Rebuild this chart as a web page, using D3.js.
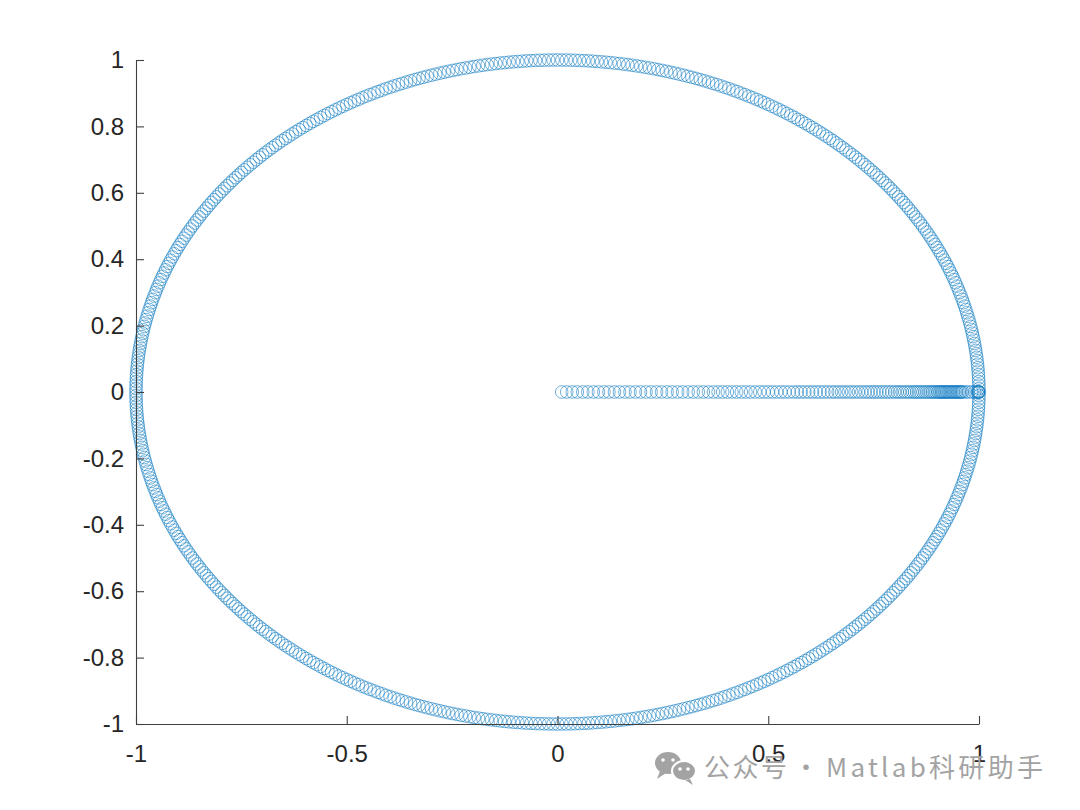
<!DOCTYPE html>
<html>
<head>
<meta charset="utf-8">
<script src="https://cdn.jsdelivr.net/npm/d3@7"></script>
<style>
  body { margin: 0; background: #fff; }
  svg { display: block; }
</style>
</head>
<body>
<script>
// tick values, as printed on the axes
var xTicks = [-1, -0.5, 0, 0.5, 1];
var yTicks = [-1, -0.8, -0.6, -0.4, -0.2, 0, 0.2, 0.4, 0.6, 0.8, 1];

// trajectory along the x axis (y = 0), from near the origin to the limit cycle
var rayX = [
  0.010, 0.022, 0.035, 0.047, 0.060, 0.072, 0.085, 0.097, 0.110, 0.122,
  0.135, 0.147, 0.160, 0.172, 0.185, 0.197, 0.210, 0.222, 0.235, 0.247,
  0.260, 0.272, 0.285, 0.297, 0.310, 0.322, 0.334, 0.346, 0.358, 0.370,
  0.381, 0.392, 0.403, 0.414, 0.425, 0.436, 0.447, 0.458, 0.469, 0.480,
  0.490, 0.500, 0.510, 0.520, 0.530, 0.540, 0.550, 0.560, 0.569, 0.578,
  0.587, 0.596, 0.605, 0.614, 0.623, 0.632, 0.641, 0.650, 0.658, 0.666,
  0.674, 0.682, 0.690, 0.698, 0.706, 0.714, 0.722, 0.730, 0.737, 0.744,
  0.751, 0.758, 0.765, 0.772, 0.779, 0.786, 0.793, 0.800, 0.806, 0.812,
  0.818, 0.824, 0.830, 0.836, 0.842, 0.847, 0.852, 0.857, 0.862, 0.867,
  0.872, 0.877, 0.882, 0.886, 0.890, 0.894, 0.898, 0.902, 0.905, 0.908,
  0.911, 0.914, 0.917, 0.920, 0.923, 0.926, 0.929, 0.932, 0.935, 0.938,
  0.941, 0.944, 0.947, 0.950, 0.953, 0.956, 0.959, 0.962, 0.968, 0.975,
  0.983, 0.990, 0.995, 0.998, 0.999, 1.000
];

// angles (degrees) of the points on the unit circle
var circleDeg = [
  0,0.6,1.2,1.8,2.4,3,3.6,4.2,4.8,5.4,
  6,6.6,7.2,7.8,8.4,9,9.6,10.2,10.8,11.4,
  12,12.6,13.2,13.8,14.4,15,15.6,16.2,16.8,17.4,
  18,18.6,19.2,19.8,20.4,21,21.6,22.2,22.8,23.4,
  24,24.6,25.2,25.8,26.4,27,27.6,28.2,28.8,29.4,
  30,30.6,31.2,31.8,32.4,33,33.6,34.2,34.8,35.4,
  36,36.6,37.2,37.8,38.4,39,39.6,40.2,40.8,41.4,
  42,42.6,43.2,43.8,44.4,45,45.6,46.2,46.8,47.4,
  48,48.6,49.2,49.8,50.4,51,51.6,52.2,52.8,53.4,
  54,54.6,55.2,55.8,56.4,57,57.6,58.2,58.8,59.4,
  60,60.6,61.2,61.8,62.4,63,63.6,64.2,64.8,65.4,
  66,66.6,67.2,67.8,68.4,69,69.6,70.2,70.8,71.4,
  72,72.6,73.2,73.8,74.4,75,75.6,76.2,76.8,77.4,
  78,78.6,79.2,79.8,80.4,81,81.6,82.2,82.8,83.4,
  84,84.6,85.2,85.8,86.4,87,87.6,88.2,88.8,89.4,
  90,90.6,91.2,91.8,92.4,93,93.6,94.2,94.8,95.4,
  96,96.6,97.2,97.8,98.4,99,99.6,100.2,100.8,101.4,
  102,102.6,103.2,103.8,104.4,105,105.6,106.2,106.8,107.4,
  108,108.6,109.2,109.8,110.4,111,111.6,112.2,112.8,113.4,
  114,114.6,115.2,115.8,116.4,117,117.6,118.2,118.8,119.4,
  120,120.6,121.2,121.8,122.4,123,123.6,124.2,124.8,125.4,
  126,126.6,127.2,127.8,128.4,129,129.6,130.2,130.8,131.4,
  132,132.6,133.2,133.8,134.4,135,135.6,136.2,136.8,137.4,
  138,138.6,139.2,139.8,140.4,141,141.6,142.2,142.8,143.4,
  144,144.6,145.2,145.8,146.4,147,147.6,148.2,148.8,149.4,
  150,150.6,151.2,151.8,152.4,153,153.6,154.2,154.8,155.4,
  156,156.6,157.2,157.8,158.4,159,159.6,160.2,160.8,161.4,
  162,162.6,163.2,163.8,164.4,165,165.6,166.2,166.8,167.4,
  168,168.6,169.2,169.8,170.4,171,171.6,172.2,172.8,173.4,
  174,174.6,175.2,175.8,176.4,177,177.6,178.2,178.8,179.4,
  180,180.6,181.2,181.8,182.4,183,183.6,184.2,184.8,185.4,
  186,186.6,187.2,187.8,188.4,189,189.6,190.2,190.8,191.4,
  192,192.6,193.2,193.8,194.4,195,195.6,196.2,196.8,197.4,
  198,198.6,199.2,199.8,200.4,201,201.6,202.2,202.8,203.4,
  204,204.6,205.2,205.8,206.4,207,207.6,208.2,208.8,209.4,
  210,210.6,211.2,211.8,212.4,213,213.6,214.2,214.8,215.4,
  216,216.6,217.2,217.8,218.4,219,219.6,220.2,220.8,221.4,
  222,222.6,223.2,223.8,224.4,225,225.6,226.2,226.8,227.4,
  228,228.6,229.2,229.8,230.4,231,231.6,232.2,232.8,233.4,
  234,234.6,235.2,235.8,236.4,237,237.6,238.2,238.8,239.4,
  240,240.6,241.2,241.8,242.4,243,243.6,244.2,244.8,245.4,
  246,246.6,247.2,247.8,248.4,249,249.6,250.2,250.8,251.4,
  252,252.6,253.2,253.8,254.4,255,255.6,256.2,256.8,257.4,
  258,258.6,259.2,259.8,260.4,261,261.6,262.2,262.8,263.4,
  264,264.6,265.2,265.8,266.4,267,267.6,268.2,268.8,269.4,
  270,270.6,271.2,271.8,272.4,273,273.6,274.2,274.8,275.4,
  276,276.6,277.2,277.8,278.4,279,279.6,280.2,280.8,281.4,
  282,282.6,283.2,283.8,284.4,285,285.6,286.2,286.8,287.4,
  288,288.6,289.2,289.8,290.4,291,291.6,292.2,292.8,293.4,
  294,294.6,295.2,295.8,296.4,297,297.6,298.2,298.8,299.4,
  300,300.6,301.2,301.8,302.4,303,303.6,304.2,304.8,305.4,
  306,306.6,307.2,307.8,308.4,309,309.6,310.2,310.8,311.4,
  312,312.6,313.2,313.8,314.4,315,315.6,316.2,316.8,317.4,
  318,318.6,319.2,319.8,320.4,321,321.6,322.2,322.8,323.4,
  324,324.6,325.2,325.8,326.4,327,327.6,328.2,328.8,329.4,
  330,330.6,331.2,331.8,332.4,333,333.6,334.2,334.8,335.4,
  336,336.6,337.2,337.8,338.4,339,339.6,340.2,340.8,341.4,
  342,342.6,343.2,343.8,344.4,345,345.6,346.2,346.8,347.4,
  348,348.6,349.2,349.8,350.4,351,351.6,352.2,352.8,353.4,
  354,354.6,355.2,355.8,356.4,357,357.6,358.2,358.8,359.4
];

var watermark = ["公众号", "·", "Matlab科研助手"];

var width = 1080, height = 810;
var plot = {left: 136, right: 979, top: 60, bottom: 724};

var x = d3.scaleLinear().domain([-1, 1]).range([plot.left, plot.right]);
var y = d3.scaleLinear().domain([-1, 1]).range([plot.bottom, plot.top]);

var svg = d3.select("body").append("svg")
    .attr("width", width)
    .attr("height", height);

// points: the ray first, then the circle, same colour
var pts = rayX.map(function(v) { return {x: v, y: 0}; })
  .concat(circleDeg.map(function(a) {
    var t = a * Math.PI / 180;
    return {x: Math.cos(t), y: Math.sin(t)};
  }));

svg.append("g")
    .selectAll("circle")
    .data(pts)
    .enter().append("circle")
      .attr("cx", function(d) { return x(d.x); })
      .attr("cy", function(d) { return y(d.y); })
      .attr("r", 6.3)
      .attr("fill", "none")
      .attr("stroke", "#0072BD")
      .attr("stroke-opacity", 0.85)
      .attr("stroke-width", 0.65);

// axes, MATLAB style: ticks inside, no box
var fmt = function(d) { return String(d); };

var gx = svg.append("g")
    .attr("transform", "translate(0," + plot.bottom + ")")
    .call(d3.axisBottom(x).tickValues(xTicks).tickFormat(fmt)
      .tickSizeInner(-8).tickSizeOuter(0).tickPadding(21));

var gy = svg.append("g")
    .attr("transform", "translate(" + plot.left + ",0)")
    .call(d3.axisLeft(y).tickValues(yTicks).tickFormat(fmt)
      .tickSizeInner(-8).tickSizeOuter(0).tickPadding(12));

[gx, gy].forEach(function(g) {
  g.select(".domain").attr("stroke", "#404040").attr("stroke-width", 1.1);
  g.selectAll(".tick line").attr("stroke", "#404040").attr("stroke-width", 1.1);
  g.selectAll(".tick text")
    .attr("fill", "#262626")
    .style("font-family", "'Liberation Sans', Arial, Helvetica, sans-serif")
    .style("font-size", "24px");
});

// watermark (bottom right)
var wm = svg.append("g").attr("fill", "#a3a3a3");
wm.append("ellipse").attr("cx", 668).attr("cy", 763).attr("rx", 13).attr("ry", 11);
wm.append("path").attr("d", "M660,771 L657,779 L666,773 Z");
wm.append("ellipse").attr("cx", 684).attr("cy", 771).attr("rx", 12).attr("ry", 10)
    .attr("stroke", "#fff").attr("stroke-width", 2);
wm.append("path").attr("d", "M690,779 L693,785 L685,780 Z");
[[663, 760], [673, 760], [680, 769], [688, 769]].forEach(function(p) {
  wm.append("circle").attr("cx", p[0]).attr("cy", p[1]).attr("r", 1.8).attr("fill", "#fff");
});
var wmFont = "'Noto Sans CJK SC', 'Noto Sans', sans-serif";
// three pieces so the dot keeps its narrow spacing
[[704, watermark[0], "start", 2.5], [806, watermark[1], "middle", 0], [826, watermark[2], "start", 3.3]].forEach(function(p) {
  wm.append("text")
      .attr("x", p[0]).attr("y", 777)
      .attr("text-anchor", p[2])
      .style("font-family", wmFont)
      .style("font-size", "26px")
      .style("letter-spacing", p[3] + "px")
      .text(p[1]);
});
</script>
</body>
</html>
